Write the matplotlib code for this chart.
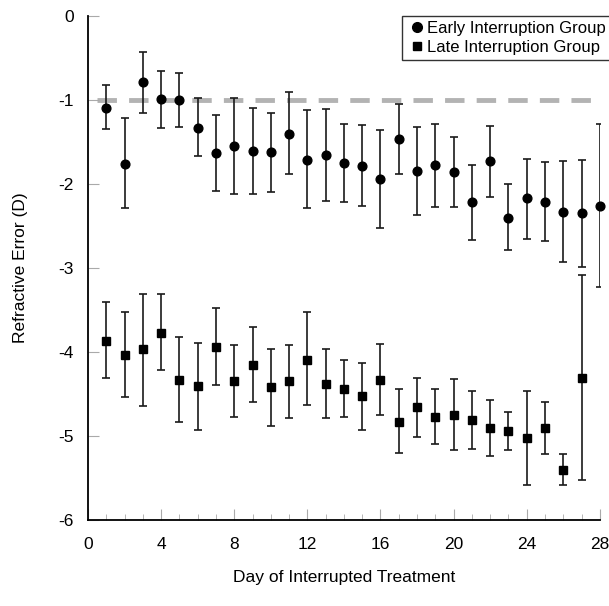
import matplotlib.pyplot as plt
from matplotlib.lines import Line2D
from matplotlib.ticker import MultipleLocator

plt.rcParams['font.family'] = ['Liberation Sans', 'DejaVu Sans']
plt.rcParams['axes.unicode_minus'] = False

# dny 1..28 (casna skupina), 1..27 (pozdni skupina)
days_early = list(range(1, 29))
early_mean = [-1.09, -1.76, -0.79, -0.99, -1.00, -1.33, -1.63, -1.55, -1.61, -1.62,
              -1.40, -1.71, -1.65, -1.75, -1.78, -1.94, -1.47, -1.84, -1.77, -1.86,
              -2.22, -1.73, -2.40, -2.17, -2.21, -2.33, -2.35, -2.26]
early_top = [-0.82, -1.22, -0.43, -0.65, -0.68, -0.98, -1.18, -0.98, -1.09, -1.15,
             -0.91, -1.12, -1.11, -1.28, -1.30, -1.36, -1.05, -1.32, -1.28, -1.44,
             -1.77, -1.31, -2.00, -1.70, -1.74, -1.73, -1.71, -1.28]
early_bottom = [-1.35, -2.29, -1.15, -1.33, -1.32, -1.67, -2.08, -2.12, -2.12, -2.09,
                -1.88, -2.29, -2.20, -2.22, -2.26, -2.52, -1.88, -2.37, -2.27, -2.28,
                -2.67, -2.15, -2.79, -2.65, -2.68, -2.93, -2.99, -3.23]

days_late = list(range(1, 28))
late_mean = [-3.87, -4.04, -3.97, -3.77, -4.33, -4.41, -3.94, -4.35, -4.15, -4.42,
             -4.35, -4.09, -4.38, -4.44, -4.53, -4.33, -4.83, -4.66, -4.78, -4.75,
             -4.81, -4.91, -4.94, -5.03, -4.91, -5.40, -4.31]
late_top = [-3.41, -3.53, -3.31, -3.31, -3.82, -3.89, -3.48, -3.92, -3.70, -3.96,
            -3.92, -3.53, -3.97, -4.10, -4.13, -3.91, -4.44, -4.31, -4.44, -4.32,
            -4.46, -4.57, -4.72, -4.47, -4.60, -5.21, -3.08]
late_bottom = [-4.31, -4.54, -4.64, -4.21, -4.83, -4.93, -4.39, -4.78, -4.59, -4.88,
               -4.79, -4.63, -4.79, -4.78, -4.93, -4.75, -5.20, -5.01, -5.10, -5.17,
               -5.16, -5.24, -5.17, -5.58, -5.21, -5.58, -5.53]

target = -1.0

early_err = [[m - b for m, b in zip(early_mean, early_bottom)],
             [t - m for m, t in zip(early_mean, early_top)]]
late_err = [[m - b for m, b in zip(late_mean, late_bottom)],
            [t - m for m, t in zip(late_mean, late_top)]]

fig = plt.figure(figsize=(6.09, 6.06), dpi=100)
ax = fig.add_axes([0.1445, 0.142, 0.8405, 0.8316])

ax.hlines(target, 0.5, 28, colors='#b3b3b3', linestyles=(0, (4, 2.5)), linewidth=3.5, zorder=1)

e1 = ax.errorbar(days_early, early_mean, yerr=early_err, fmt='o', color='black', ecolor='#1a1a1a',
                 markersize=6.3, elinewidth=1.2, capsize=2.6, capthick=1.2, zorder=3)
e2 = ax.errorbar(days_late, late_mean, yerr=late_err, fmt='s', color='black', ecolor='#1a1a1a',
                 markersize=5.8, elinewidth=1.2, capsize=2.6, capthick=1.2, zorder=3)
e1[0].set_clip_on(False)
e2[0].set_clip_on(False)

ax.set_xlim(0, 28)
ax.set_ylim(-6, 0)
ax.xaxis.set_major_locator(MultipleLocator(4))
ax.xaxis.set_minor_locator(MultipleLocator(1))
ax.yaxis.set_major_locator(MultipleLocator(1))
ax.tick_params(axis='both', which='major', direction='in', length=8, color='#aaaaaa',
               labelsize=12.5, pad=12)
ax.tick_params(axis='x', which='minor', direction='in', length=4, color='#aaaaaa')
ax.tick_params(axis='y', pad=10)

for s in ['top', 'right']:
    ax.spines[s].set_visible(False)
for s in ['left', 'bottom']:
    ax.spines[s].set_linewidth(1.3)

ax.set_xlabel('Day of Interrupted Treatment', fontsize=12.5, labelpad=13)
ax.set_ylabel('Refractive Error (D)', fontsize=12.5, labelpad=22)

handles = [Line2D([], [], marker='o', linestyle='none', color='black', markersize=7),
           Line2D([], [], marker='s', linestyle='none', color='black', markersize=6)]
leg = ax.legend(handles, ['Early Interruption Group', 'Late Interruption Group'],
                loc='upper right', bbox_to_anchor=(1.022, 1.0), fontsize=12, frameon=True,
                fancybox=False, edgecolor='black', handlelength=1.2, handletextpad=0.0,
                borderpad=0.3, labelspacing=0.22, borderaxespad=0.0)
leg.get_frame().set_linewidth(1.0)

fig.savefig('out.png', dpi=100)
